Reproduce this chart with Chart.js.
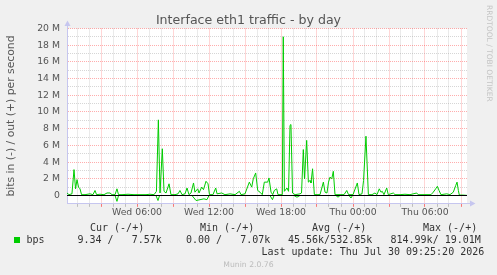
<!DOCTYPE html>
<html><head><meta charset="utf-8">
<script src="https://cdn.jsdelivr.net/npm/chart.js@4"></script>
<style>
html,body{margin:0;padding:0;background:#f0f0f0;}
#wrap{position:relative;width:497px;height:275px;overflow:hidden;background:#f0f0f0;font-family:"DejaVu Sans",sans-serif;}
canvas{position:absolute;left:0;top:0;}
.t{position:absolute;white-space:pre;line-height:1;}
.mono{font-family:"DejaVu Sans Mono",monospace;font-size:10px;color:#333;}
</style></head><body>
<div id="wrap">
<canvas id="c" width="497" height="275"></canvas>
<div class="t" style="left:0;width:497px;text-align:center;top:13.6px;font-size:12.6px;color:#555;">Interface eth1 traffic - by day</div>
<div class="t" style="left:-89.5px;top:109.5px;width:200px;height:12px;line-height:12px;text-align:center;font-size:10.8px;color:#555;transform:rotate(-90deg);transform-origin:100px 6px;">bits in (-) / out (+) per second</div>
<div class="t" style="left:485px;top:5px;font-size:7.5px;color:#c4c4c4;writing-mode:vertical-rl;">RRDTOOL / TOBI OETIKER</div>
<div class="t mono" style="left:90px;top:222.5px;">Cur (-/+)</div>
<div class="t mono" style="left:200px;top:222.5px;">Min (-/+)</div>
<div class="t mono" style="left:312px;top:222.5px;">Avg (-/+)</div>
<div class="t mono" style="left:423px;top:222.5px;">Max (-/+)</div>
<div style="position:absolute;left:14px;top:237px;width:6px;height:6px;background:#00cc00;"></div>
<div class="t mono" style="left:26.5px;top:234.5px;">bps</div>
<div class="t mono" style="left:77.5px;top:234.5px;">9.34 /   7.57k</div>
<div class="t mono" style="left:186px;top:234.5px;">0.00 /   7.07k</div>
<div class="t mono" style="left:288px;top:234.5px;">45.56k/532.85k</div>
<div class="t mono" style="left:390.5px;top:234.5px;">814.99k/ 19.01M</div>
<div class="t mono" style="left:261.5px;top:246.5px;">Last update: Thu Jul 30 09:25:20 2026</div>
<div class="t" style="left:0;width:497px;text-align:center;top:260.5px;font-size:7.7px;color:#bbb;">Munin 2.0.76</div>
</div>
<script>
// hours since Wed 00:00, values in Mbit/s
const outHours = [0.17,0.33,0.58,0.75,0.88,1.00,1.13,1.25,1.38,1.67,2.08,2.33,2.50,2.63,2.92,3.25,3.50,3.75,3.92,4.17,4.33,4.46,4.75,5.25,5.75,6.25,6.75,7.08,7.42,7.62,7.78,7.92,8.11,8.25,8.42,8.67,8.83,9.17,9.42,9.58,9.75,10.00,10.17,10.33,10.50,10.71,10.83,11.06,11.17,11.39,11.54,11.75,11.92,12.04,12.33,12.56,12.67,13.06,13.33,13.75,14.17,14.53,14.67,15.00,15.36,15.56,15.69,15.89,16.06,16.25,16.44,16.61,16.89,17.00,17.17,17.31,17.44,17.64,17.75,18.00,18.11,18.19,18.28,18.50,18.63,18.75,18.83,18.96,19.17,19.58,19.71,19.86,19.96,20.14,20.28,20.42,20.50,20.63,20.78,21.08,21.25,21.53,21.67,21.83,21.96,22.08,22.23,22.36,22.50,22.92,23.25,23.48,23.63,24.00,24.36,24.50,24.75,24.88,25.08,25.28,25.58,25.83,26.00,26.19,26.33,26.44,26.58,26.81,26.94,27.36,27.50,27.92,28.33,28.75,29.31,29.42,30.00,30.50,30.69,30.89,31.03,31.17,31.33,31.81,32.08,32.36,32.56,32.67,32.78,32.86,33.17,33.50];
const outValues = [0.3,0.1,0.2,3.1,0.8,1.9,1.0,0.8,0.1,0.1,0.2,0.1,0.6,0.1,0.15,0.1,0.3,0.3,0.1,0.1,0.8,0.1,0.1,0.15,0.1,0.1,0.1,0.15,0.1,0.5,9.06,0.3,5.6,0.5,0.3,1.4,0.1,0.1,0.2,0.6,0.1,0.2,0.9,0.1,0.3,1.5,0.4,0.8,0.3,1.0,0.7,1.7,1.4,0.1,0.1,0.9,0.2,0.3,0.1,0.2,0.1,0.5,0.1,0.2,1.6,1.0,2.0,2.7,0.6,0.4,0.1,1.6,1.6,2.1,0.4,0.1,0.6,0.8,0.1,0.1,0.1,19.01,0.5,0.9,0.5,8.4,8.5,0.3,0.1,0.2,0.3,5.5,2.0,6.6,1.6,1.8,1.5,3.2,0.1,0.1,0.1,1.6,0.4,0.3,1.6,2.2,2.0,2.9,0.1,0.1,0.1,0.6,0.1,0.1,1.5,0.1,0.2,1.8,7.1,0.1,0.1,0.3,0.1,0.8,0.4,0.5,0.1,0.9,0.1,0.3,0.1,0.1,0.15,0.1,0.3,0.1,0.1,0.1,0.4,0.8,1.1,0.6,0.1,0.2,0.1,0.4,1.2,1.6,0.6,0.05,0.05,0.01];
const inHours = [0.17,4.17,4.33,4.46,7.58,7.75,7.88,10.58,10.75,10.92,11.25,11.58,11.83,12.00,17.08,17.29,17.42,19.08,19.33,19.58,22.58,22.75,22.92,23.67,23.83,23.96,33.50];
const inValues = [0,0,-0.7,0,0,-0.6,0,0,-0.3,-0.6,-0.5,-0.4,-0.5,0,0,-0.5,0,0,-0.2,0,0,-0.2,0,0,-0.3,0,0];
const xTickHours = [6,12,18,24,30];
const xTickText = ['Wed 06:00','Wed 12:00','Wed 18:00','Thu 00:00','Thu 06:00'];
const yMin = -1, yMax = 20;
const xMin = 2/12, xMax = 402/12;

const outData = outHours.map((h,i)=>({x:h,y:outValues[i]}));
const inData = inHours.map((h,i)=>({x:h,y:inValues[i]}));
const zeroData = [{x:xMin,y:0},{x:xMax,y:0}];

const MAJOR = 'rgba(255,0,0,0.32)', MINOR = 'rgba(128,128,128,0.32)', AXIS = '#c6c6ef';

const plotBg = {id:'plotBg', beforeDraw(ch){const a=ch.chartArea,c=ch.ctx;c.save();c.fillStyle='#fff';c.fillRect(a.left,a.top,a.right-a.left,a.bottom-a.top);c.restore();}};
const arrows = {id:'arrows', afterDraw(ch){
  const a=ch.chartArea,c=ch.ctx;c.save();c.strokeStyle=AXIS;c.fillStyle=AXIS;c.lineWidth=1;
  const lx=Math.round(a.left-0.5)+0.5, by=Math.round(a.bottom-0.5)+0.5;
  c.beginPath();c.moveTo(lx,a.top);c.lineTo(lx,24);c.stroke();
  c.beginPath();c.moveTo(lx,20.5);c.lineTo(lx-3,26);c.lineTo(lx+3,26);c.closePath();c.fill();
  c.beginPath();c.moveTo(a.right,by);c.lineTo(471,by);c.stroke();
  c.beginPath();c.moveTo(475.5,by);c.lineTo(470,by-3);c.lineTo(470,by+3);c.closePath();c.fill();
  c.restore();}};

new Chart(document.getElementById('c'), {
  type:'line',
  data:{datasets:[
    {label:'zero',data:zeroData,borderColor:'#000',borderWidth:1,pointRadius:0},
    {label:'out',data:outData,borderColor:'#00cc00',borderWidth:1,pointRadius:0},
    {label:'in',data:inData,borderColor:'#00cc00',borderWidth:1,pointRadius:0}
  ]},
  options:{
    responsive:false,animation:false,devicePixelRatio:1,
    layout:{padding:{top:28.5,right:30,left:0,bottom:0}},
    plugins:{legend:{display:false},title:{display:false},tooltip:{enabled:false}},
    elements:{line:{tension:0}},
    scales:{
      x:{type:'linear',min:xMin,max:xMax,
        afterFit(s){s.height=71.15;},
        ticks:{stepSize:1,includeBounds:false,autoSkip:false,maxRotation:0,minRotation:0,padding:0,color:'#555',font:{family:'DejaVu Sans',size:9.3},
          callback:(v)=>{const i=xTickHours.indexOf(Math.round(v));return (i>=0&&Math.abs(v-Math.round(v))<1e-6)?xTickText[i]:'';}},
        grid:{color:(c)=>Math.round(c.tick.value)%3===0?MAJOR:MINOR,lineWidth:1,drawTicks:true,tickLength:3,
          tickColor:(c)=>Math.round(c.tick.value)%3===0?'rgba(255,0,0,0.5)':'rgba(128,128,128,0.45)'},
        border:{color:AXIS,dash:[1,1]}},
      y:{type:'linear',min:yMin,max:yMax,
        afterFit(s){s.width=67;},
        ticks:{stepSize:1,autoSkip:false,padding:7,color:'#555',font:{family:'DejaVu Sans',size:9.3},
          callback:(v)=>{const r=Math.round(v);if(r===0)return '0';return (r>0&&r%2===0)?r+' M':'';}},
        grid:{color:(c)=>{const r=Math.round(c.tick.value);if(r<0)return 'rgba(0,0,0,0)';return r%2===0?MAJOR:MINOR;},lineWidth:1,drawTicks:false},
        border:{color:AXIS,dash:[1,1]}}
    }
  },
  plugins:[plotBg,arrows]
});
</script>
</body></html>
